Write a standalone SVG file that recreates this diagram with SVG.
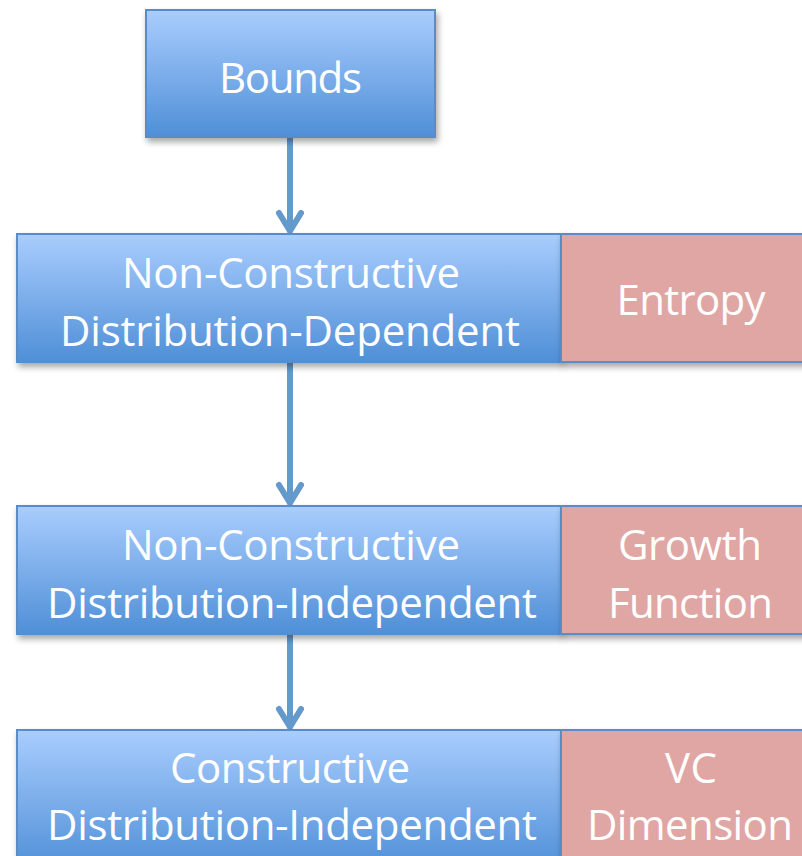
<svg xmlns="http://www.w3.org/2000/svg" width="802" height="856" viewBox="0 0 802 856">
<defs>
<linearGradient id="blueGrad" x1="0" y1="0" x2="0" y2="1">
<stop offset="0" stop-color="#A9CDFE"/>
<stop offset="1" stop-color="#4F8FD7"/>
</linearGradient>
<filter id="shadow" x="-10%" y="-10%" width="130%" height="140%">
<feDropShadow dx="2" dy="4" stdDeviation="3" flood-color="#000" flood-opacity="0.35"/>
</filter>
<marker id="arrow" viewBox="0 0 30 30" refX="15" refY="22" markerWidth="30" markerHeight="30" markerUnits="userSpaceOnUse" orient="auto-start-reverse">
<path d="M4 11 L15 22" fill="none" stroke="#6399CB" stroke-width="6" stroke-linecap="round"/>
</marker>
</defs>
<style>
.blue{fill:url(#blueGrad);stroke:#5A8DC8;stroke-width:2;filter:url(#shadow);}
.pink{fill:#E0A6A4;stroke:#5A8DC8;stroke-width:2;filter:url(#shadow);}
.lbl{font-family:"Open Sans","Liberation Sans",sans-serif;font-size:42px;fill:#FFFFFF;text-anchor:middle;}
.conn{fill:none;stroke:#6399CB;stroke-width:6;stroke-linecap:round;stroke-linejoin:round;}
</style>
<g id="connectors">
<path class="conn" d="M290 138 L290 231 M279 213 L290 231 L301 213"/>
<path class="conn" d="M290 363 L290 503 M279 485 L290 503 L301 485"/>
<path class="conn" d="M290 635 L290 727 M279 709 L290 727 L301 709"/>
</g>
<g id="bounds">
<rect class="blue" x="146" y="10" width="289" height="127"/>
<text class="lbl" x="290.5" y="93" textLength="143">Bounds</text>
</g>
<g id="ncdd">
<rect class="blue" x="17" y="234" width="544" height="128"/>
<text class="lbl" x="291" y="288" textLength="338">Non-Constructive</text>
<text class="lbl" x="290" y="346" textLength="460">Distribution-Dependent</text>
</g>
<g id="entropy">
<rect class="pink" x="561" y="234" width="260" height="128"/>
<text class="lbl" x="691" y="315" textLength="149">Entropy</text>
</g>
<g id="ncdi">
<rect class="blue" x="17" y="506" width="544" height="128"/>
<text class="lbl" x="291" y="560" textLength="338">Non-Constructive</text>
<text class="lbl" x="292" y="618" textLength="490">Distribution-Independent</text>
</g>
<g id="growth">
<rect class="pink" x="561" y="506" width="260" height="128"/>
<text class="lbl" x="690" y="560" textLength="144">Growth</text>
<text class="lbl" x="690.5" y="618" textLength="165">Function</text>
</g>
<g id="cdi">
<rect class="blue" x="17" y="730" width="544" height="140"/>
<text class="lbl" x="290" y="783" textLength="240">Constructive</text>
<text class="lbl" x="292" y="840" textLength="490">Distribution-Independent</text>
</g>
<g id="vc">
<rect class="pink" x="561" y="730" width="260" height="140"/>
<text class="lbl" x="691" y="783" textLength="52">VC</text>
<text class="lbl" x="690" y="840" textLength="206">Dimension</text>
</g>
</svg>
